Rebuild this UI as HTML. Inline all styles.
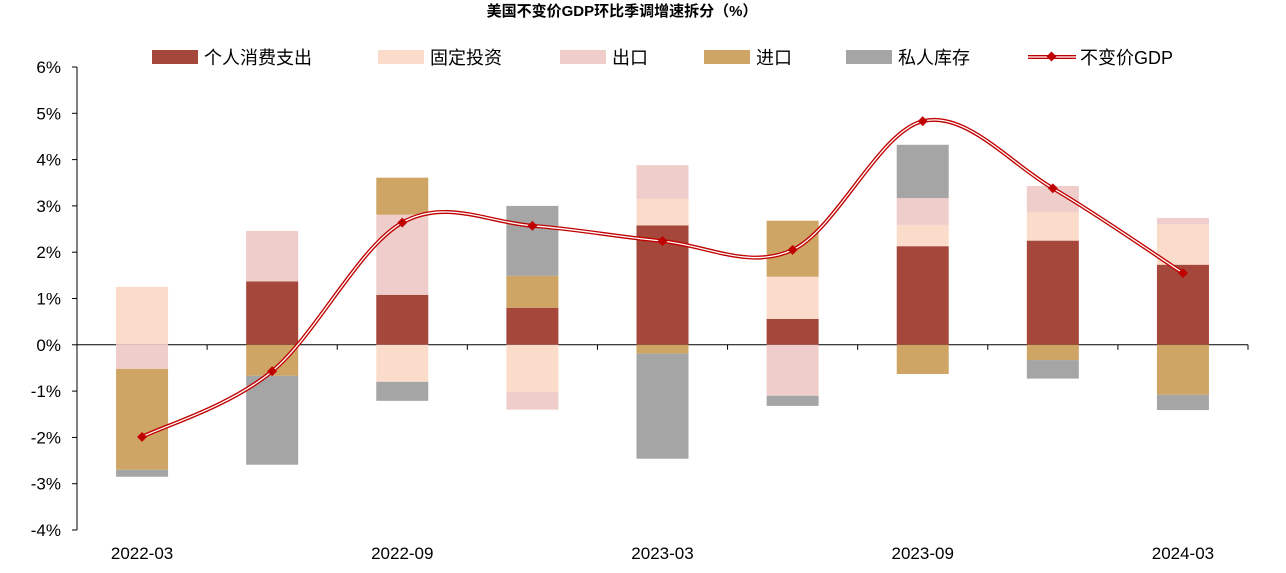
<!DOCTYPE html>
<html><head><meta charset="utf-8">
<style>
body{margin:0;background:#fff;}
svg{display:block;font-family:"Liberation Sans","Noto Sans CJK SC",sans-serif;}
</style></head>
<body>
<svg id="chart" width="1286" height="573" viewBox="0 0 1286 573" xmlns="http://www.w3.org/2000/svg">
<text x="622" y="16" text-anchor="middle" font-size="15" font-weight="bold" fill="#000">美国不变价GDP环比季调增速拆分（%）</text>
<g id="legend" font-size="18" fill="#000">
 <g><rect x="152" y="50" width="46" height="14" fill="#A5473A"/><text x="204" y="64">个人消费支出</text></g>
 <g><rect x="378" y="50" width="46" height="14" fill="#FBDCCB"/><text x="430" y="64">固定投资</text></g>
 <g><rect x="560" y="50" width="46" height="14" fill="#EECDCB"/><text x="612" y="64">出口</text></g>
 <g><rect x="704" y="50" width="46" height="14" fill="#CFA566"/><text x="756" y="64">进口</text></g>
 <g><rect x="846" y="50" width="46" height="14" fill="#A5A5A5"/><text x="898" y="64">私人库存</text></g>
 <g><line x1="1028" y1="57" x2="1076" y2="57" stroke="#C00000" stroke-width="4"/><line x1="1028" y1="57" x2="1076" y2="57" stroke="#fff" stroke-width="1.3"/><rect x="1048" y="53" width="7" height="7" fill="#C00000" transform="rotate(45 1051.5 56.5)"/><text x="1080" y="64">不变价GDP</text></g>
</g>
<g id="axes"></g>
<g id="bars"></g>
<g id="line"></g>
</svg>
<script>
const categories=["2022-03","2022-06","2022-09","2022-12","2023-03","2023-06","2023-09","2023-12","2024-03"];
const xLabels=["2022-03","","2022-09","","2023-03","","2023-09","","2024-03"];
const consumption=[0,1.37,1.08,0.8,2.58,0.56,2.13,2.25,1.73];
const fixedInvestment=[1.25,0,-0.8,-1.02,0.57,0.91,0.46,0.62,0.88];
const exportsC=[-0.52,1.09,1.73,-0.38,0.73,-1.1,0.58,0.56,0.13];
const importsC=[-2.18,-0.67,0.8,0.69,-0.19,1.21,-0.63,-0.33,-1.08];
const inventory=[-0.15,-1.92,-0.41,1.51,-2.27,-0.22,1.15,-0.4,-0.33];
const gdp=[-1.99,-0.57,2.64,2.57,2.24,2.05,4.83,3.38,1.55];
const yTicks=[-4,-3,-2,-1,0,1,2,3,4,5,6];
const series=[
 {name:"consumption",vals:consumption,color:"#A5473A"},
 {name:"fixed-investment",vals:fixedInvestment,color:"#FBDCCB"},
 {name:"exports",vals:exportsC,color:"#EECDCB"},
 {name:"imports",vals:importsC,color:"#CFA566"},
 {name:"inventory",vals:inventory,color:"#A5A5A5"}
];
const NS="http://www.w3.org/2000/svg";
const pLeft=77,pRight=1248,pTop=67,pBottom=530,yMin=-4,yMax=6;
const step=(pRight-pLeft)/categories.length;
const barW=52;
function xc(i){return pLeft+step*(i+0.5);}
function yS(v){return pBottom-(v-yMin)/(yMax-yMin)*(pBottom-pTop);}
function mk(tag,attrs,parent){const e=document.createElementNS(NS,tag);for(const k in attrs)e.setAttribute(k,attrs[k]);parent.appendChild(e);return e;}
const axesG=document.getElementById('axes'),barsG=document.getElementById('bars'),lineG=document.getElementById('line');
let ya=mk('line',{x1:pLeft,y1:pTop,x2:pLeft,y2:pBottom,stroke:'#000','stroke-width':1},axesG);


yTicks.forEach(t=>{
 mk('line',{x1:pLeft-5,y1:yS(t),x2:pLeft,y2:yS(t),stroke:'#000'},axesG);
 const tx=mk('text',{x:pLeft-16,y:yS(t)+6,'text-anchor':'end','font-size':17,fill:'#000'},axesG);
 tx.textContent=t+'%';
 
 
});
let xa=mk('line',{x1:pLeft,y1:yS(0),x2:pRight,y2:yS(0),stroke:'#000','stroke-width':1},axesG);


for(let i=0;i<=categories.length;i++){mk('line',{x1:pLeft+step*i,y1:yS(0),x2:pLeft+step*i,y2:yS(0)+5,stroke:'#000'},axesG);}
xLabels.forEach((l,i)=>{if(!l)return;
 const tx=mk('text',{x:xc(i),y:559,'text-anchor':'middle','font-size':17,fill:'#000'},axesG);
 tx.textContent=l;
 
 
});
categories.forEach((c,i)=>{
 let pos=0,neg=0;
 series.forEach(s=>{
  const v=s.vals[i]; if(!v)return;
  let y0,y1;
  if(v>0){y0=pos;y1=pos+v;pos=y1;}else{y0=neg;y1=neg+v;neg=y1;}
  const r=mk('rect',{x:xc(i)-barW/2,y:Math.min(yS(y0),yS(y1)),width:barW,height:Math.abs(yS(y1)-yS(y0)),fill:s.color},barsG);
  
  
 });
});
const pts=gdp.map((v,i)=>[xc(i),yS(v)]);
let d='M'+pts[0][0]+','+pts[0][1];
for(let i=0;i<pts.length-1;i++){
 const p0=pts[i-1]||pts[i],p1=pts[i],p2=pts[i+1],p3=pts[i+2]||p2;
 const c1=[p1[0]+(p2[0]-p0[0])/6,p1[1]+(p2[1]-p0[1])/6];
 const c2=[p2[0]-(p3[0]-p1[0])/6,p2[1]-(p3[1]-p1[1])/6];
 d+=` C${c1[0]},${c1[1]} ${c2[0]},${c2[1]} ${p2[0]},${p2[1]}`;
}
const l1=mk('path',{d:d,fill:'none',stroke:'#C00000','stroke-width':4},lineG);


mk('path',{d:d,fill:'none',stroke:'#fff','stroke-width':1.3},lineG);
pts.forEach((p,i)=>{
 const m=mk('rect',{x:p[0]-3.5,y:p[1]-3.5,width:7,height:7,fill:'#C00000',transform:`rotate(45 ${p[0]} ${p[1]})`},lineG);
 
 
});
</script>
</body></html>
